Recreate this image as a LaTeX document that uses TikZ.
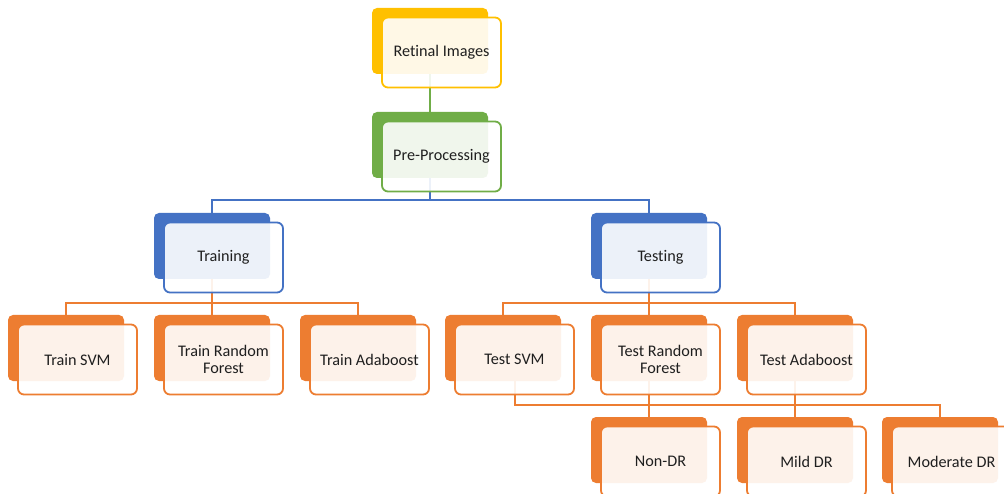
\documentclass[tikz,border=0pt]{standalone}
\usepackage{fontspec}
\setmainfont{Carlito}[Ligatures=NoCommon]
\pgfdeclarelayer{bg}
\pgfsetlayers{bg,main}
\definecolor{cyel}{HTML}{FFC000}
\definecolor{cgrn}{HTML}{70AD47}
\definecolor{cblu}{HTML}{4472C4}
\definecolor{corg}{HTML}{ED7D31}
\definecolor{ctxt}{HTML}{1F1F1F}
\tikzset{
  backbox/.style={rectangle, rounded corners=5pt, minimum width=116pt, minimum height=66pt, inner sep=0pt, outer sep=0pt, draw=none},
  frontbox/.style={rectangle, rounded corners=6pt, minimum width=119pt, minimum height=70pt, inner sep=2pt, outer sep=0pt, line width=1.8pt, fill=white, fill opacity=0.9, text opacity=1, text=ctxt, align=center, font=\fontsize{16.2}{17}\selectfont},
  conn/.style={line width=2pt}
}
\newcommand\smbox[5]{%
  \node[backbox, fill=#4] (b#1) at ({#2+58},{-#3-33}) {};
  \node[frontbox, draw=#4] (f#1) at ({#2+69.5},{-#3-44.5}) {#5};
}
\begin{document}
\begin{tikzpicture}[x=1pt,y=1pt]
\useasboundingbox (0,0) rectangle (1004,-494);
\clip (0,0) rectangle (1004,-494);
\smbox{Ret}{372}{8}{cyel}{Retinal Images}
\smbox{Pre}{372}{112}{cgrn}{Pre-Processing}
\smbox{Trn}{154}{213}{cblu}{Training}
\smbox{Tst}{591}{213}{cblu}{Testing}
\smbox{TrSVM}{8}{315}{corg}{Train SVM}
\smbox{TrRF}{154}{315}{corg}{Train Random\\Forest}
\smbox{TrAda}{300}{315}{corg}{Train Adaboost}
\smbox{TeSVM}{445}{315}{corg}{Test SVM}
\smbox{TeRF}{591}{315}{corg}{Test Random\\Forest}
\smbox{TeAda}{737}{315}{corg}{Test Adaboost}
\smbox{Non}{591}{417}{corg}{Non-DR}
\smbox{Mild}{737}{417}{corg}{Mild DR}
\smbox{Mod}{882}{417}{corg}{Moderate DR}
\coordinate (busA) at (0,-200);
\coordinate (busB) at (0,-303);
\coordinate (busC) at (0,-405);
\begin{pgfonlayer}{bg}
\fill[white] (0,0) rectangle (1004,-494);
\draw[conn, cgrn] (bRet.south) -- (bPre.north);
\draw[conn, cblu] (bPre.south) -- (bPre.south |- busA) -| (bTrn.north);
\draw[conn, cblu] (bPre.south |- busA) -| (bTst.north);
\draw[conn, corg] (bTrn.south) -- (bTrn.south |- busB) -| (bTrSVM.north);
\draw[conn, corg] (bTrn.south |- busB) -| (bTrAda.north);
\draw[conn, corg] (bTrn.south |- busB) -- (bTrRF.north);
\draw[conn, corg] (bTst.south) -- (bTst.south |- busB) -| (bTeSVM.north);
\draw[conn, corg] (bTst.south |- busB) -| (bTeAda.north);
\draw[conn, corg] (bTst.south |- busB) -- (bTeRF.north);
\draw[conn, corg] (bTeSVM.south -| fTeSVM.south) |- (bMod.north |- busC) -- (bMod.north);
\draw[conn, corg] (bTeRF.south) -- (bNon.north);
\draw[conn, corg] (bTeAda.south) -- (bMild.north);
\end{pgfonlayer}
\end{tikzpicture}
\end{document}
